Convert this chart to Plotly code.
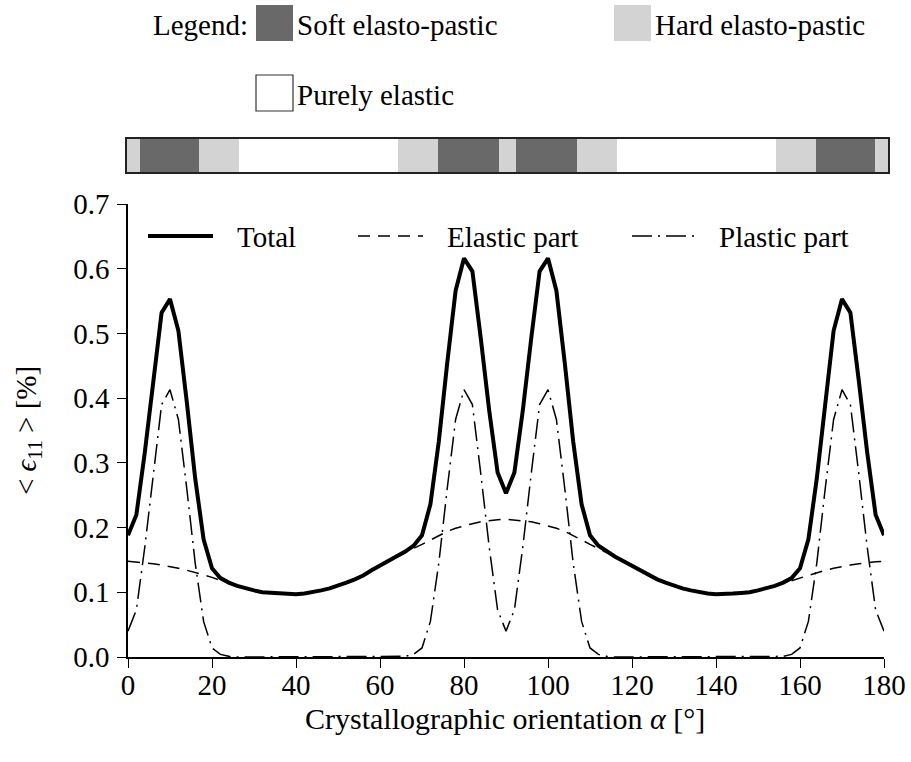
import plotly.graph_objects as go

# ---------------------------------------------------------------------------
# Data: mean strain component <eps_11> vs. crystallographic orientation alpha
# ---------------------------------------------------------------------------
alpha = list(range(0, 181, 2))

total = [
    0.188, 0.220, 0.316, 0.427, 0.532, 0.553, 0.504, 0.394, 0.276, 0.182,
    0.137, 0.122, 0.115, 0.110, 0.106, 0.103, 0.100, 0.099, 0.098, 0.097,
    0.097, 0.098, 0.100, 0.103, 0.106, 0.110, 0.115, 0.120, 0.126, 0.134,
    0.141, 0.148, 0.155, 0.163, 0.172, 0.188, 0.236, 0.333, 0.454, 0.566,
    0.616, 0.596, 0.492, 0.381, 0.285, 0.253, 0.285, 0.381, 0.492, 0.596,
    0.616, 0.566, 0.454, 0.333, 0.236, 0.188, 0.172, 0.163, 0.155, 0.148,
    0.141, 0.134, 0.126, 0.120, 0.115, 0.110, 0.106, 0.103, 0.100, 0.098,
    0.097, 0.097, 0.098, 0.099, 0.100, 0.103, 0.106, 0.110, 0.115, 0.122,
    0.137, 0.182, 0.276, 0.394, 0.504, 0.553, 0.532, 0.427, 0.316, 0.220,
    0.188,
]

elastic = [
    0.148, 0.147, 0.146, 0.144, 0.142, 0.140, 0.137, 0.134, 0.131, 0.127,
    0.123, 0.118, 0.114, 0.110, 0.106, 0.103, 0.100, 0.099, 0.098, 0.097,
    0.097, 0.098, 0.100, 0.103, 0.106, 0.110, 0.115, 0.120, 0.126, 0.134,
    0.141, 0.148, 0.155, 0.162, 0.168, 0.174, 0.181, 0.188, 0.194, 0.199,
    0.203, 0.206, 0.209, 0.211, 0.212, 0.213, 0.212, 0.211, 0.209, 0.206,
    0.203, 0.199, 0.194, 0.188, 0.181, 0.174, 0.168, 0.162, 0.155, 0.148,
    0.141, 0.134, 0.126, 0.120, 0.115, 0.110, 0.106, 0.103, 0.100, 0.098,
    0.097, 0.097, 0.098, 0.099, 0.100, 0.103, 0.106, 0.110, 0.114, 0.118,
    0.123, 0.127, 0.131, 0.134, 0.137, 0.140, 0.142, 0.144, 0.146, 0.147,
    0.148,
]

plastic = [
    0.040, 0.073, 0.170, 0.283, 0.390, 0.413, 0.367, 0.260, 0.145, 0.055,
    0.014, 0.004, 0.001, 0.000, 0.000, 0.000, 0.000, 0.000, 0.000, 0.000,
    0.000, 0.000, 0.000, 0.000, 0.000, 0.000, 0.000, 0.000, 0.000, 0.000,
    0.000, 0.000, 0.000, 0.001, 0.004, 0.014, 0.055, 0.145, 0.260, 0.367,
    0.413, 0.390, 0.283, 0.170, 0.073, 0.040, 0.073, 0.170, 0.283, 0.390,
    0.413, 0.367, 0.260, 0.145, 0.055, 0.014, 0.004, 0.001, 0.000, 0.000,
    0.000, 0.000, 0.000, 0.000, 0.000, 0.000, 0.000, 0.000, 0.000, 0.000,
    0.000, 0.000, 0.000, 0.000, 0.000, 0.000, 0.000, 0.000, 0.001, 0.004,
    0.014, 0.055, 0.145, 0.260, 0.367, 0.413, 0.390, 0.283, 0.170, 0.073,
    0.040,
]

# Material behaviour along the orientation range (band above the plot)
band_edges = [0, 3, 17, 26.5, 64, 73.5, 88, 92, 106.5, 116, 153.5, 163, 177, 180]
band_kind = ["hard", "soft", "hard", "elastic", "hard", "soft", "hard",
             "soft", "hard", "elastic", "hard", "soft", "hard"]

kind_color = {"soft": "#696969", "hard": "#d3d3d3", "elastic": "#ffffff"}

x_ticks = [0, 20, 40, 60, 80, 100, 120, 140, 160, 180]
y_ticks = [0.0, 0.1, 0.2, 0.3, 0.4, 0.5, 0.6, 0.7]

# ---------------------------------------------------------------------------
# Layout geometry (pixels)
# ---------------------------------------------------------------------------
FIG_W, FIG_H = 911, 762
M_L, M_R, M_T, M_B = 127, 23, 139, 105
PLOT_W = FIG_W - M_L - M_R
PLOT_H = FIG_H - M_T - M_B


def px(x):
    return (x - M_L) / PLOT_W


def py(y):
    return (FIG_H - M_B - y) / PLOT_H


FONT = "Liberation Serif"
FS = 29
INK = "#000000"

dash_elastic = "12px,8px"
dash_plastic = "20px,6px,2px,6px"

fig = go.Figure()

# Main curves
fig.add_trace(go.Scatter(x=alpha, y=total, mode="lines", name="Total",
                         line=dict(color=INK, width=4), xaxis="x", yaxis="y"))
fig.add_trace(go.Scatter(x=alpha, y=elastic, mode="lines", name="Elastic part",
                         line=dict(color=INK, width=1.5, dash=dash_elastic),
                         xaxis="x", yaxis="y"))
fig.add_trace(go.Scatter(x=alpha, y=plastic, mode="lines", name="Plastic part",
                         line=dict(color=INK, width=1.5, dash=dash_plastic),
                         xaxis="x", yaxis="y"))

# Behaviour band
widths = [band_edges[i + 1] - band_edges[i] for i in range(len(band_kind))]
fig.add_trace(go.Bar(
    x=widths, base=band_edges[:-1], y=[0] * len(band_kind), orientation="h",
    width=1.0, marker=dict(color=[kind_color[k] for k in band_kind],
                           line=dict(width=0)),
    xaxis="x2", yaxis="y2", showlegend=False, hoverinfo="skip",
))

shapes = []
annotations = []

# In-plot legend
legend_y = 236
legend_items = [
    (148, 213, 235, "Total", dict(color=INK, width=4)),
    (358, 423, 445, "Elastic part", dict(color=INK, width=1.5, dash=dash_elastic)),
    (632, 694, 717, "Plastic part", dict(color=INK, width=1.5, dash=dash_plastic)),
]
for x0, x1, xt, label, ln in legend_items:
    shapes.append(dict(type="line", xref="paper", yref="paper",
                       x0=px(x0), x1=px(x1), y0=py(legend_y), y1=py(legend_y),
                       line=ln))
    annotations.append(dict(text=label, xref="paper", yref="paper",
                            x=px(xt), y=py(legend_y + 1), xanchor="left",
                            yanchor="middle", showarrow=False,
                            font=dict(family=FONT, size=FS, color=INK)))

# Legend for the behaviour band
annotations.append(dict(text="Legend:", xref="paper", yref="paper",
                        x=px(250), y=py(25), xanchor="right", yanchor="middle",
                        showarrow=False, font=dict(family=FONT, size=FS, color=INK)))
band_legend = [
    (256, 5, "soft", "Soft elasto-pastic"),
    (614, 5, "hard", "Hard elasto-pastic"),
    (256, 75, "elastic", "Purely elastic"),
]
for x0, y0, kind, label in band_legend:
    outline = dict(color="#333333", width=1.2) if kind == "elastic" else dict(width=0)
    shapes.append(dict(type="rect", xref="paper", yref="paper",
                       x0=px(x0), x1=px(x0 + 37), y0=py(y0 + 36), y1=py(y0),
                       fillcolor=kind_color[kind], line=outline))
    annotations.append(dict(text=label, xref="paper", yref="paper",
                            x=px(x0 + 39), y=py(y0 + 20), xanchor="left",
                            yanchor="middle", showarrow=False,
                            font=dict(family=FONT, size=FS, color=INK)))

# Axis titles
annotations.append(dict(text="Crystallographic orientation <i>α</i> [°]",
                        xref="paper", yref="paper", x=px(505), y=py(718),
                        xanchor="center", yanchor="middle", showarrow=False,
                        font=dict(family=FONT, size=FS + 1, color=INK)))
annotations.append(dict(text="< <i>ϵ</i><sub>11</sub> > [%]",
                        xref="paper", yref="paper", x=px(28), y=py(431),
                        xanchor="center", yanchor="middle", textangle=-90,
                        showarrow=False,
                        font=dict(family=FONT, size=FS, color=INK)))

axis_common = dict(showgrid=False, zeroline=False, showline=True,
                   linecolor=INK, linewidth=1.5, ticks="outside", ticklen=9,
                   tickwidth=1.3, tickcolor=INK, automargin=False,
                   tickfont=dict(family=FONT, size=FS, color=INK))

fig.update_layout(
    width=FIG_W, height=FIG_H,
    margin=dict(l=M_L, r=M_R, t=M_T, b=M_B, pad=0, autoexpand=False),
    paper_bgcolor="white", plot_bgcolor="white",
    showlegend=False, bargap=0,
    xaxis=dict(domain=[px(128), px(884)], range=[0, 180], tickvals=x_ticks,
               anchor="y", ticklabelstandoff=-8, **axis_common),
    yaxis=dict(domain=[0, py(204)], range=[0, 0.7], tickvals=y_ticks,
               tickformat=".1f", anchor="x", ticklabelstandoff=2, **axis_common),
    xaxis2=dict(domain=[0, 1], range=[0, 180], anchor="y2", showgrid=False,
                zeroline=False, showticklabels=False, ticks="", automargin=False,
                showline=True, mirror=True, linecolor="#222222", linewidth=1.5),
    yaxis2=dict(domain=[py(172), 1], range=[-0.5, 0.5], anchor="x2",
                showgrid=False, zeroline=False, showticklabels=False, ticks="",
                automargin=False,
                showline=True, mirror=True, linecolor="#222222", linewidth=1.5),
    shapes=shapes,
    annotations=annotations,
)

fig.write_html("out.html")
